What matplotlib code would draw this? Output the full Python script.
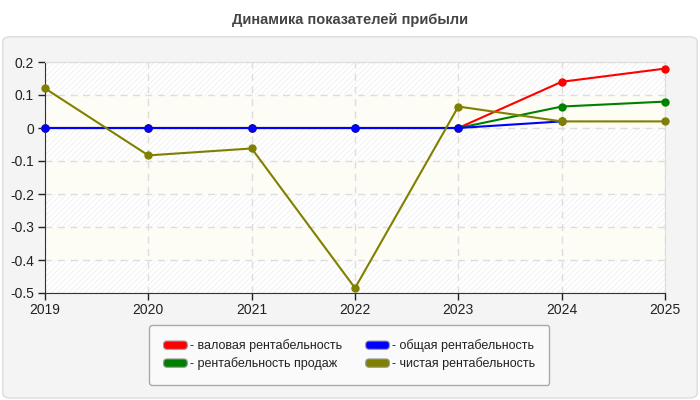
import numpy as np
import matplotlib
matplotlib.use("Agg")
import matplotlib.pyplot as plt
from matplotlib.patches import FancyBboxPatch, Rectangle
from matplotlib.legend_handler import HandlerPatch

years = [2019, 2020, 2021, 2022, 2023, 2024, 2025]
gross = [0, 0, 0, 0, 0, 0.14, 0.18]
sales = [0, 0, 0, 0, 0, 0.065, 0.08]
total = [0, 0, 0, 0, 0, 0.02, np.nan]
net = [0.12, -0.083, -0.062, -0.485, 0.065, 0.02, 0.02]

labels = ["- валовая рентабельность", "- рентабельность продаж",
          "- общая рентабельность", "- чистая рентабельность"]
colors = ["#ff0000", "#008000", "#0000ff", "#808000"]
yticks = [0.2, 0.1, 0, -0.1, -0.2, -0.3, -0.4, -0.5]

plt.rcParams['font.family'] = ['Liberation Sans', 'DejaVu Sans']
plt.rcParams['hatch.linewidth'] = 0.5
plt.rcParams['hatch.color'] = '#ededed'

fig = plt.figure(figsize=(7, 4), dpi=100)
fig.patch.set_facecolor('white')

# outer panel
panel = FancyBboxPatch((0.004, 0.005), 0.992, 0.903, boxstyle="round,pad=0,rounding_size=0.012",
                       transform=fig.transFigure, facecolor='#f4f4f4', edgecolor='#dcdcdc',
                       linewidth=1, zorder=-5)
fig.add_artist(panel)

fig.text(0.5, 0.95, "Динамика показателей прибыли", ha='center', va='center',
         fontsize=10.5, fontweight='bold', color='#444444',
         family=['Liberation Sans Narrow', 'Liberation Sans', 'DejaVu Sans'])

ax = fig.add_axes([0.0643, 0.2675, 0.8857, 0.5775])
ax.set_zorder(1)
ax.set_facecolor('white')

# alternating bands
for i in range(len(yticks) - 1):
    top, bot = yticks[i], yticks[i + 1]
    if i % 2 == 0:
        ax.fill_between([years[0], years[-1]], bot, top, facecolor='white',
                        hatch='//////', edgecolor='#ededed', linewidth=0, zorder=0)
    else:
        ax.fill_between([years[0], years[-1]], bot, top, facecolor='#fdfdf6',
                        linewidth=0, zorder=0)

series = [gross, sales, total, net]
for idx in range(4):
    ax.plot(years, series[idx], color=colors[idx], marker='o', markersize=5,
            linewidth=1.5, zorder=3 + idx, clip_on=False)

ax.set_xlim(years[0], years[-1])
ax.set_ylim(-0.5, 0.2)
ax.set_xticks(years)
ax.set_yticks(yticks)
ax.set_yticklabels(["0.2", "0.1", "0", "-0.1", "-0.2", "-0.3", "-0.4", "-0.5"])
ax.tick_params(axis='both', labelsize=10, colors='#222222', length=5, width=1)
ax.tick_params(axis='x', pad=2)
ax.tick_params(axis='y', pad=3)
ax.grid(True, color='#dddddd', linestyle=(0, (5, 4)), linewidth=1, zorder=1)
for s in ['top', 'right']:
    ax.spines[s].set_color('#dddddd')
for s in ['left', 'bottom']:
    ax.spines[s].set_color('#333333')


class RoundHandler(HandlerPatch):
    def create_artists(self, legend, orig, xdescent, ydescent, width, height, fontsize, trans):
        p = FancyBboxPatch((-xdescent, -ydescent + height * 0.1), width, height * 0.8,
                           boxstyle="round,pad=0,rounding_size=2.5",
                           facecolor=orig.get_facecolor(), edgecolor='#999999',
                           linewidth=0.8, transform=trans)
        return [p]


handles = [Rectangle((0, 0), 1, 1, facecolor=c) for c in colors]
leg = fig.legend(handles, labels, ncol=2, loc='center', bbox_to_anchor=(0.499, 0.1125),
                 fontsize=9, frameon=True, fancybox=True, edgecolor='#aaaaaa',
                 facecolor='#fafafa', framealpha=1, handlelength=1.9, handleheight=0.9,
                 handletextpad=0.2, columnspacing=1.9, labelspacing=0.4,
                 borderpad=1.15, handler_map={Rectangle: RoundHandler()})
leg.get_frame().set_linewidth(1)
for t in leg.get_texts():
    t.set_color('#222222')

fig.savefig("out.png", dpi=100)
